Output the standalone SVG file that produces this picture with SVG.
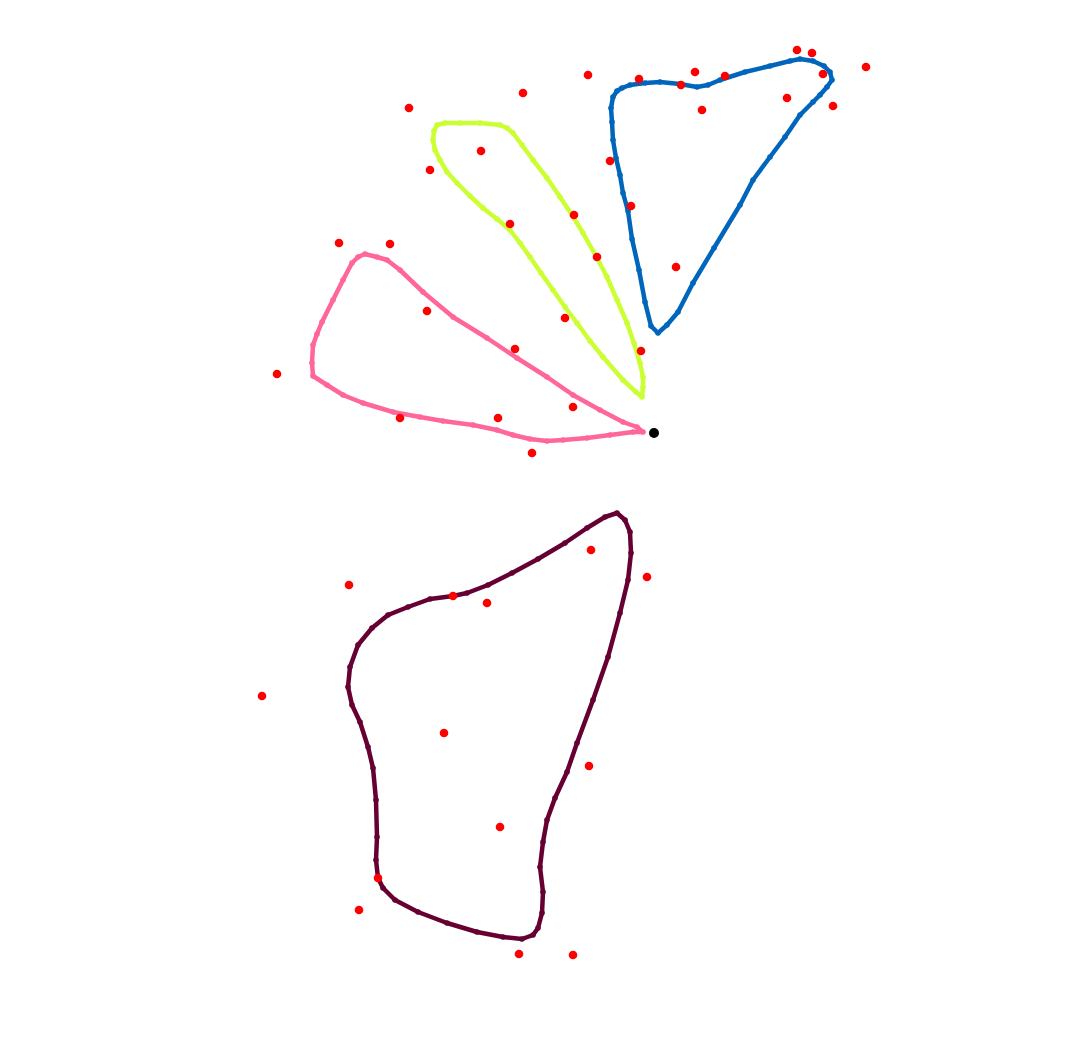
<svg xmlns="http://www.w3.org/2000/svg" width="1067" height="1050" viewBox="0 0 1067 1050">
<style>
.sh{fill:none;stroke-width:4.5;stroke-linejoin:round;stroke-linecap:round}
.pt{fill:#ff0000}
</style>
<defs>
<marker id="mb" markerUnits="userSpaceOnUse" markerWidth="8" markerHeight="8" refX="4" refY="4"><circle cx="4" cy="4" r="2.8" fill="#0066bb"/></marker>
<marker id="my" markerUnits="userSpaceOnUse" markerWidth="8" markerHeight="8" refX="4" refY="4"><circle cx="4" cy="4" r="2.8" fill="#ccff33"/></marker>
<marker id="mp" markerUnits="userSpaceOnUse" markerWidth="8" markerHeight="8" refX="4" refY="4"><circle cx="4" cy="4" r="2.8" fill="#ff6699"/></marker>
<marker id="mm" markerUnits="userSpaceOnUse" markerWidth="8" markerHeight="8" refX="4" refY="4"><circle cx="4" cy="4" r="2.8" fill="#660033"/></marker>
</defs>
<rect width="1067" height="1050" fill="#ffffff"/>
<g id="blue">
<polygon class="sh" stroke="#0066bb" marker-start="url(#mb)" marker-mid="url(#mb)" points="658,333 651,326 645,302 639,270 632,239 628,211 623,193 620,175 616,158 613,140 612,122 611,108 613,97 617,91 622,88 630,85 645,83 660,82 680,84 697,87 708,85 720,80 745,72 770,66 790,61 800,59 813,61 824,66 830,72 832,80 827,87 820,95 813,102 800,115 785,137 770,157 753,180 740,205 714,248 693,283 678,312 667,325"/>
</g>
<g id="yellow">
<polygon class="sh" stroke="#ccff33" marker-start="url(#my)" marker-mid="url(#my)" points="437,125 445,123 460,123 480,123 500,125 507,128 513,133 522,145 533,160 547,178 560,197 572,215 583,233 596,256 607,277 617,300 627,323 634,343 640,363 643,377 643,387 642,397 636,392 623,380 603,357 590,341 577,323 565,307 553,290 541,273 530,257 520,243 510,230 497,219 483,208 470,196 457,183 447,172 440,160 435,150 433,140 434,131"/>
</g>
<g id="pink">
<polygon class="sh" stroke="#ff6699" marker-start="url(#mp)" marker-mid="url(#mp)" points="365,254 377,257 387,260 400,270 423,292 453,317 487,338 517,358 547,377 573,395 600,410 623,422 637,427 643,432 633,432 610,435 587,438 563,440 547,441 530,439 513,435 497,430 473,425 443,421 420,417 393,412 363,403 343,395 327,385 313,376 312,363 313,345 317,334 322,322 333,300 343,280 352,263 358,257"/>
</g>
<g id="maroon">
<polygon class="sh" stroke="#660033" marker-start="url(#mm)" marker-mid="url(#mm)" points="617,513 625,520 630,532 631,553 628,580 620,613 608,657 593,700 577,743 567,772 555,798 547,820 543,842 540,867 543,892 542,913 538,928 533,935 522,939 503,937 477,932 447,923 418,912 395,900 383,888 378,878 376,860 377,837 376,800 373,768 368,747 360,722 352,705 348,687 350,667 358,645 372,628 388,615 408,607 430,599 453,596 467,593 488,585 512,573 538,559 565,543 587,528 605,517"/>
</g>
<g id="points">
<circle class="pt" cx="797" cy="50" r="4.3"/>
<circle class="pt" cx="812" cy="53" r="4.3"/>
<circle class="pt" cx="866" cy="67" r="4.3"/>
<circle class="pt" cx="823" cy="74" r="4.3"/>
<circle class="pt" cx="833" cy="106" r="4.3"/>
<circle class="pt" cx="787" cy="98" r="4.3"/>
<circle class="pt" cx="725" cy="76" r="4.3"/>
<circle class="pt" cx="695" cy="72" r="4.3"/>
<circle class="pt" cx="681" cy="85" r="4.3"/>
<circle class="pt" cx="639" cy="79" r="4.3"/>
<circle class="pt" cx="588" cy="75" r="4.3"/>
<circle class="pt" cx="702" cy="110" r="4.3"/>
<circle class="pt" cx="610" cy="161" r="4.3"/>
<circle class="pt" cx="631" cy="206" r="4.3"/>
<circle class="pt" cx="676" cy="267" r="4.3"/>
<circle class="pt" cx="409" cy="108" r="4.3"/>
<circle class="pt" cx="523" cy="93" r="4.3"/>
<circle class="pt" cx="430" cy="170" r="4.3"/>
<circle class="pt" cx="481" cy="151" r="4.3"/>
<circle class="pt" cx="510" cy="224" r="4.3"/>
<circle class="pt" cx="574" cy="215" r="4.3"/>
<circle class="pt" cx="597" cy="257" r="4.3"/>
<circle class="pt" cx="565" cy="318" r="4.3"/>
<circle class="pt" cx="641" cy="351" r="4.3"/>
<circle class="pt" cx="339" cy="243" r="4.3"/>
<circle class="pt" cx="390" cy="244" r="4.3"/>
<circle class="pt" cx="427" cy="311" r="4.3"/>
<circle class="pt" cx="515" cy="349" r="4.3"/>
<circle class="pt" cx="277" cy="374" r="4.3"/>
<circle class="pt" cx="400" cy="418" r="4.3"/>
<circle class="pt" cx="498" cy="418" r="4.3"/>
<circle class="pt" cx="573" cy="407" r="4.3"/>
<circle class="pt" cx="532" cy="453" r="4.3"/>
<circle class="pt" cx="349" cy="585" r="4.3"/>
<circle class="pt" cx="453" cy="596" r="4.3"/>
<circle class="pt" cx="487" cy="603" r="4.3"/>
<circle class="pt" cx="591" cy="550" r="4.3"/>
<circle class="pt" cx="647" cy="577" r="4.3"/>
<circle class="pt" cx="262" cy="696" r="4.3"/>
<circle class="pt" cx="444" cy="733" r="4.3"/>
<circle class="pt" cx="589" cy="766" r="4.3"/>
<circle class="pt" cx="500" cy="827" r="4.3"/>
<circle class="pt" cx="359" cy="910" r="4.3"/>
<circle class="pt" cx="378" cy="878" r="4.3"/>
<circle class="pt" cx="519" cy="954" r="4.3"/>
<circle class="pt" cx="573" cy="955" r="4.3"/>
</g>
<g id="origin">
<circle cx="654" cy="433" r="5" fill="#000000"/>
</g>
</svg>
